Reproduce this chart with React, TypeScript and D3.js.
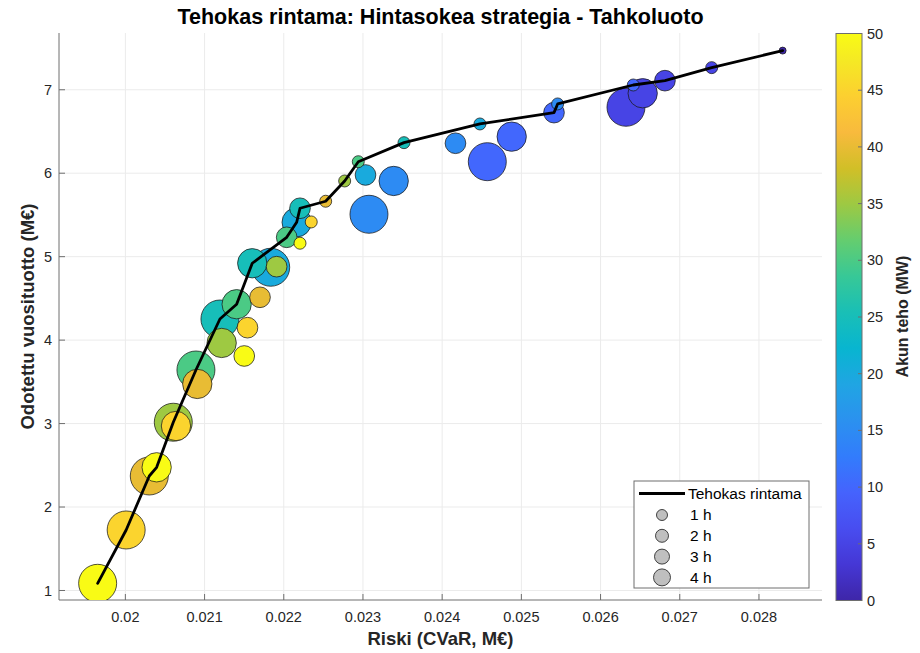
import React from 'react';
import * as d3 from 'd3';

// akun teho (MW), kesto (h), riski (CVaR, M€) ja odotettu tuotto (M€) jokaiselle konfiguraatiolle
const tehot = [
  50, 50, 50, 50,
  45, 45, 45, 45,
  40, 40, 40, 40,
  35, 35, 35, 35,
  30, 30, 30, 30,
  25, 25, 25, 25,
  20, 20, 20, 20,
  15, 15, 15, 15,
  10, 10, 10, 10,
  5, 5, 5, 5,
  0
];
const tunnit = [
  4, 3, 2, 1,
  4, 3, 2, 1,
  4, 3, 2, 1,
  4, 3, 2, 1,
  4, 3, 2, 1,
  4, 3, 2, 1,
  4, 3, 2, 1,
  4, 3, 2, 1,
  4, 3, 2, 1,
  4, 3, 2, 1,
  0
];
const riski = [
  0.01965, 0.020395, 0.021501, 0.022205,
  0.02001, 0.020639, 0.021542, 0.022347,
  0.020302, 0.020908, 0.0217, 0.022529,
  0.020605, 0.021216, 0.02191, 0.022769,
  0.020891, 0.021405, 0.022037, 0.022941,
  0.021194, 0.021602, 0.022205, 0.023518,
  0.021835, 0.022163, 0.023032, 0.024477,
  0.023076, 0.023388, 0.024168, 0.025458,
  0.02457, 0.024878, 0.025412, 0.026413,
  0.026321, 0.026532, 0.026813, 0.027403,
  0.028299
];
const tuotto = [
  1.086, 2.476, 3.81, 5.161,
  1.725, 2.971, 4.149, 5.416,
  2.372, 3.475, 4.513, 5.664,
  3.016, 3.966, 4.88, 5.907,
  3.642, 4.43, 5.232, 6.138,
  4.253, 4.921, 5.58, 6.366,
  4.873, 5.412, 5.979, 6.59,
  5.508, 5.907, 6.359, 6.83,
  6.138, 6.438, 6.726, 7.057,
  6.79, 6.958, 7.109, 7.265,
  7.469
];

// tehokkaan rintaman pisteet (teho MW, kesto h)
const rintama = [
  [50, 4], [45, 4], [40, 4], [50, 3], [35, 4], [30, 4], [25, 4], [30, 3],
  [25, 3], [30, 2], [20, 3], [25, 2], [40, 1], [35, 1], [30, 1], [25, 1],
  [20, 1], [10, 2], [15, 1], [10, 1], [5, 2], [5, 1], [0, 0]
];

const xTicks = [0.02, 0.021, 0.022, 0.023, 0.024, 0.025, 0.026, 0.027, 0.028];
const yTicks = [1, 2, 3, 4, 5, 6, 7];
const cTicks = [0, 5, 10, 15, 20, 25, 30, 35, 40, 45, 50];
const legendTunnit = [1, 2, 3, 4];

// parula-väripaletti (MATLAB), indeksi 1..64
const parulaStops = [
  [1, 0.2422, 0.1504, 0.6603], [5, 0.2706, 0.2147, 0.8364], [9, 0.2813, 0.3006, 0.9414],
  [13, 0.2699, 0.3892, 0.9906], [17, 0.1963, 0.4847, 0.9892], [21, 0.1687, 0.5703, 0.9359],
  [25, 0.1248, 0.6459, 0.8883], [29, 0.0297, 0.7082, 0.8163], [33, 0.0964, 0.75, 0.712],
  [37, 0.2161, 0.7843, 0.5923], [41, 0.3909, 0.8029, 0.4354], [45, 0.6174, 0.7876, 0.2612],
  [49, 0.8203, 0.7498, 0.1535], [53, 0.9728, 0.7298, 0.2394], [57, 0.9892, 0.8136, 0.1885],
  [61, 0.9597, 0.9135, 0.1423], [64, 0.9769, 0.9839, 0.0805]
];

const font = '"Liberation Sans", Arial, Helvetica, sans-serif';
const txt = '#262626';

export default function App() {
  const W = 920, H = 653;
  const left = 59, right = 822, top = 33, bottom = 600;

  const x = d3.scaleLinear().domain([0.019162, 0.028796]).range([left, right]);
  const y = d3.scaleLinear().domain([0.886, 7.68]).range([bottom, top]);
  const r = d3.scaleLinear().domain([1, 4]).range([6, 19]);
  const rLeg = d3.scaleLinear().domain([1, 4]).range([5.5, 8.5]);

  const stopColors = parulaStops.map(s => d3.rgb(s[1] * 255, s[2] * 255, s[3] * 255).formatHex());
  const color = d3.scaleLinear<string>()
    .domain(parulaStops.map(s => (s[0] - 1) / 63 * 50))
    .range(stopColors)
    .interpolate(d3.interpolateRgb)
    .clamp(true);

  const cbX0 = 836, cbX1 = 862;
  const cy = d3.scaleLinear().domain([0, 50]).range([600.5, 33.5]);

  const points = tehot.map((p, i) => ({ p, h: tunnit[i], rx: riski[i], ty: tuotto[i] }));
  const drawOrder = points.slice().sort((a, b) => b.h - a.h);

  const frontier = rintama.map(([p, h]) => points.find(d => d.p === p && d.h === h)!);
  const line = d3.line<any>().x(d => x(d.rx)).y(d => y(d.ty));

  const midX = (left + right) / 2;
  const midY = (top + bottom) / 2;

  return (
    <svg width={W} height={H} style={{ position: 'absolute', left: 0, top: 0, background: '#fff', fontFamily: font }}>
      <defs>
        <linearGradient id="parula" x1="0" y1="1" x2="0" y2="0">
          {parulaStops.map((s, i) => (
            <stop key={i} offset={(s[0] - 1) / 63} stopColor={stopColors[i]} />
          ))}
        </linearGradient>
        <clipPath id="plotClip">
          <rect x={left} y={top} width={right - left} height={bottom - top} />
        </clipPath>
      </defs>

      {/* ruudukko */}
      <g stroke="#ebebeb" strokeWidth={1}>
        {xTicks.map(t => <line key={t} x1={x(t)} x2={x(t)} y1={top} y2={bottom} />)}
        {yTicks.map(t => <line key={t} x1={left} x2={right} y1={y(t)} y2={y(t)} />)}
      </g>

      {/* akselit */}
      <g stroke="#6e6e6e" strokeWidth={1}>
        <line x1={left} x2={right} y1={bottom} y2={bottom} />
        <line x1={left} x2={left} y1={top} y2={bottom} />
        {xTicks.map(t => <line key={t} x1={x(t)} x2={x(t)} y1={bottom} y2={bottom - 6} />)}
        {yTicks.map(t => <line key={t} x1={left} x2={left + 6} y1={y(t)} y2={y(t)} />)}
      </g>
      <g fill={txt} fontSize={14.5}>
        {xTicks.map(t => (
          <text key={t} x={x(t)} y={622} textAnchor="middle">{String(+t.toFixed(3))}</text>
        ))}
        {yTicks.map(t => (
          <text key={t} x={52} y={y(t)} dy="0.35em" textAnchor="end">{t}</text>
        ))}
      </g>

      {/* kuplat */}
      <g clipPath="url(#plotClip)">
        {drawOrder.map((d, i) => (
          <circle key={i} cx={x(d.rx)} cy={y(d.ty)} r={Math.max(r(d.h), 3.5)}
            fill={color(d.p)} stroke="#1a1a1a" strokeOpacity={0.75} strokeWidth={1} />
        ))}
        <path d={line(frontier) || ''} fill="none" stroke="#000" strokeWidth={2.8}
          strokeLinejoin="round" strokeLinecap="round" />
      </g>

      {/* otsikot */}
      <text x={midX} y={24} textAnchor="middle" fontSize={21.5} fontWeight="bold" fill="#000">
        Tehokas rintama: Hintasokea strategia - Tahkoluoto
      </text>
      <text x={midX} y={645} textAnchor="middle" fontSize={18.5} fontWeight="bold" fill={txt}>
        Riski (CVaR, M€)
      </text>
      <text transform={`translate(28,${midY}) rotate(-90)`} dy="0.35em" textAnchor="middle"
        fontSize={18.5} fontWeight="bold" fill={txt}>
        Odotettu vuosituotto (M€)
      </text>

      {/* selite */}
      <g>
        <rect x={634} y={481} width={175} height={107} fill="#fff" stroke="#6e6e6e" strokeWidth={1} />
        <line x1={639} x2={685} y1={493.5} y2={493.5} stroke="#000" strokeWidth={2.8} />
        <text x={688} y={493.5} dy="0.35em" fontSize={15.5} fill="#000">Tehokas rintama</text>
        {legendTunnit.map((h, i) => {
          const ly = 515 + i * 20.8;
          return (
            <g key={h}>
              <circle cx={662} cy={ly} r={rLeg(h)} fill="#bfbfbf" stroke="#1a1a1a" strokeOpacity={0.8} />
              <text x={690} y={ly} dy="0.35em" fontSize={15.5} fill="#000">{h} h</text>
            </g>
          );
        })}
      </g>

      {/* väripalkki */}
      <rect x={cbX0} y={cy(50)} width={cbX1 - cbX0} height={cy(0) - cy(50)} fill="url(#parula)"
        stroke="#6e6e6e" strokeWidth={1} />
      <g stroke="#6e6e6e" strokeWidth={1}>
        {cTicks.map(t => <line key={t} x1={cbX1 - 4} x2={cbX1} y1={cy(t)} y2={cy(t)} />)}
      </g>
      <g fill={txt} fontSize={14.5}>
        {cTicks.map(t => (
          <text key={t} x={867} y={cy(t)} dy="0.35em">{t}</text>
        ))}
      </g>
      <text transform={`translate(902,${midY}) rotate(-90)`} dy="0.35em" textAnchor="middle"
        fontSize={16} fontWeight="bold" fill={txt}>
        Akun teho (MW)
      </text>
    </svg>
  );
}
